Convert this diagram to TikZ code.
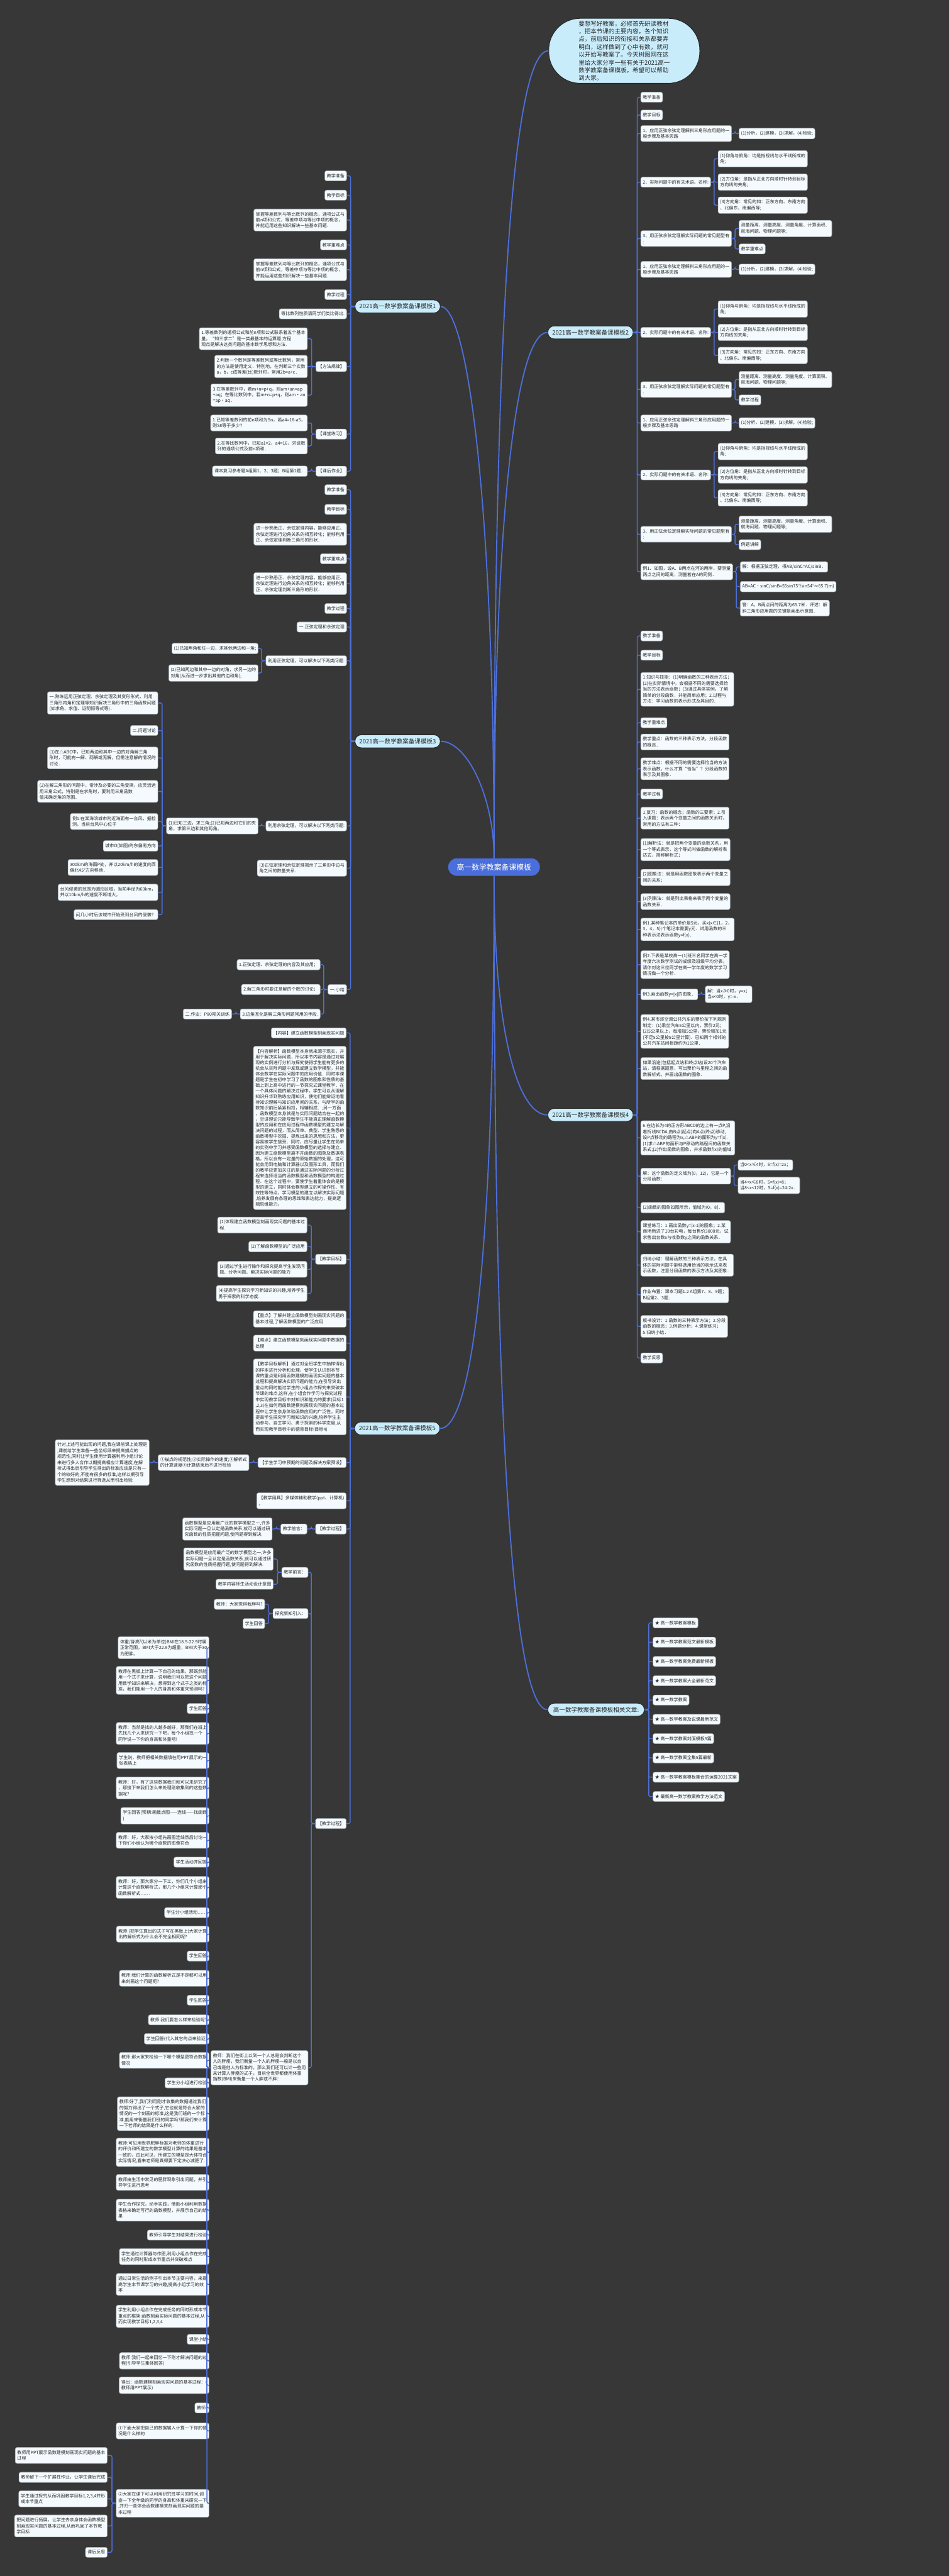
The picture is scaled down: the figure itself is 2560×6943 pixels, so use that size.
\documentclass[tikz,border=0pt]{standalone}
\usepackage{fontspec}
\setmainfont{Noto Sans CJK SC}
\usetikzlibrary{positioning}
\definecolor{bgcol}{HTML}{373737}
\definecolor{linkblue}{HTML}{4E6FD8}
\definecolor{leaffill}{HTML}{F4FAFD}
\definecolor{leafline}{HTML}{9AA3A8}
\definecolor{brfill}{HTML}{C9ECFB}
\definecolor{rootfill}{HTML}{4A6EDB}
\definecolor{inkcol}{HTML}{2A2A2A}

\begin{document}
\begin{tikzpicture}[x=0.01cm, y=-0.01cm,
every node/.style={font=\fontsize{3.4}{4.55}\selectfont, text=inkcol, align=left},
leaf/.style={rectangle, rounded corners=0.05cm, draw=leafline, line width=0.3pt, fill=leaffill, inner xsep=0.055cm, inner ysep=2.3pt},
branch/.style={rectangle, rounded corners=0.17cm, draw=black!85, line width=0.5pt, fill=brfill, minimum width=2.3cm, minimum height=0.35cm, inner sep=0pt, font=\fontsize{4.6}{5.5}\selectfont, align=center},
root/.style={rectangle, rounded corners=0.23cm, fill=rootfill, minimum width=2.47cm, minimum height=0.47cm, inner sep=0pt, text=white, font=\fontsize{5.7}{6.5}\selectfont, align=center},
bubble/.style={rectangle, rounded corners=0.85cm, draw=black!85, line width=0.5pt, fill=brfill, minimum width=4.07cm, minimum height=1.75cm, inner sep=0pt, font=\fontsize{4.6}{5.97}\selectfont},
link/.style={draw=linkblue, line width=0.7pt, rounded corners=0.045cm},
trunk/.style={draw=linkblue, line width=0.9pt}
]
\fill[bgcol] (0,0) rectangle (2560,6943);
\useasboundingbox (0,0) rectangle (2560,6943);

% Centre, intro and main branches
\node[root] (root) at (1332,2337) {高一数学教案备课模板};
\node[bubble] (intro) at (1683,137) {要想写好教案，必修首先研读教材\\，把本节课的主要内容，各个知识\\点，前后知识的衔接和关系都要弄\\明白，这样做到了心中有数，就可\\以开始写教案了。今天树图网在这\\里给大家分享一些有关于2021高一\\数学教案备课模板，希望可以帮助\\到大家。};
\node[branch] (b1) at (1072,826) {2021高一数学教案备课模板1};
\node[branch] (b2) at (1592,896) {2021高一数学教案备课模板2};
\node[branch] (b3) at (1072,1998) {2021高一数学教案备课模板3};
\node[branch] (b4) at (1592,3005) {2021高一数学教案备课模板4};
\node[branch] (b5) at (1071,3850) {2021高一数学教案备课模板5};
\node[branch, minimum width=2.6cm] (b6) at (1607,4608) {高一数学教案备课模板相关文章:};

\draw[trunk] (root.north) .. controls (1332,900) and (1380,137) .. (intro.west);
\draw[trunk] (root.north) .. controls (1332,1400) and (1390,896) .. (b2.west);
\draw[trunk] (root.north) .. controls (1332,1350) and (1260,826) .. (b1.east);
\draw[trunk] (root.north) .. controls (1332,2150) and (1260,1998) .. (b3.east);
\draw[trunk] (root.south) .. controls (1332,2800) and (1400,3005) .. (b4.west);
\draw[trunk] (root.south) .. controls (1332,3500) and (1260,3850) .. (b5.east);
\draw[trunk] (root.south) .. controls (1332,4100) and (1400,4608) .. (b6.west);

% Branch 2
\node[leaf, anchor=west] (r01) at (1727,262) {教学准备};
\node[leaf, anchor=west] (r02) at (1727,310) {教学目标};
\node[leaf, anchor=west] (r03) at (1727,360) {1、应用正弦余弦定理解斜三角形应用题的一\\般步骤及基本思路};
\node[leaf, right=0.19cm of r03] (r03a) {(1)分析，(2)建模，(3)求解，(4)检验;};
\node[leaf, anchor=west] (r04) at (1727,491) {2、实际问题中的有关术语、名称:};
\node[leaf, right=0.19cm of r04, yshift=0.63cm] (r04a) {(1)仰角与俯角：均是指视线与水平线所成的\\角;};
\node[leaf, right=0.19cm of r04] (r04b) {(2)方位角：是指从正北方向顺时针转到目标\\方向线的夹角;};
\node[leaf, right=0.19cm of r04, yshift=-0.62cm] (r04c) {(3)方向角：常见的如：正东方向、东南方向\\、北偏东、南偏西等;};
\node[leaf, anchor=west] (r05) at (1727,643) {3、用正弦余弦定理解实际问题的常见题型有\\:};
\node[leaf, right=0.19cm of r05, yshift=0.27cm] (r05a) {测量距离、测量高度、测量角度、计算面积、\\航海问题、物理问题等;};
\node[leaf, right=0.19cm of r05, yshift=-0.28cm] (r05b) {教学重难点};
\node[leaf, anchor=west] (r06) at (1727,726) {1、应用正弦余弦定理解斜三角形应用题的一\\般步骤及基本思路};
\node[leaf, right=0.19cm of r06] (r06a) {(1)分析，(2)建模，(3)求解，(4)检验;};
\node[leaf, anchor=west] (r07) at (1727,896) {2、实际问题中的有关术语、名称:};
\node[leaf, right=0.19cm of r07, yshift=0.63cm] (r07a) {(1)仰角与俯角：均是指视线与水平线所成的\\角;};
\node[leaf, right=0.19cm of r07] (r07b) {(2)方位角：是指从正北方向顺时针转到目标\\方向线的夹角;};
\node[leaf, right=0.19cm of r07, yshift=-0.62cm] (r07c) {(3)方向角：常见的如：正东方向、东南方向\\、北偏东、南偏西等;};
\node[leaf, anchor=west] (r08) at (1727,1050) {3、用正弦余弦定理解实际问题的常见题型有\\:};
\node[leaf, right=0.19cm of r08, yshift=0.27cm] (r08a) {测量距离、测量高度、测量角度、计算面积、\\航海问题、物理问题等;};
\node[leaf, right=0.19cm of r08, yshift=-0.28cm] (r08b) {教学过程};
\node[leaf, anchor=west] (r09) at (1727,1140) {1、应用正弦余弦定理解斜三角形应用题的一\\般步骤及基本思路};
\node[leaf, right=0.19cm of r09] (r09a) {(1)分析，(2)建模，(3)求解，(4)检验;};
\node[leaf, anchor=west] (r10) at (1727,1280) {2、实际问题中的有关术语、名称:};
\node[leaf, right=0.19cm of r10, yshift=0.63cm] (r10a) {(1)仰角与俯角：均是指视线与水平线所成的\\角;};
\node[leaf, right=0.19cm of r10] (r10b) {(2)方位角：是指从正北方向顺时针转到目标\\方向线的夹角;};
\node[leaf, right=0.19cm of r10, yshift=-0.62cm] (r10c) {(3)方向角：常见的如：正东方向、东南方向\\、北偏东、南偏西等;};
\node[leaf, anchor=west] (r11) at (1727,1440) {3、用正弦余弦定理解实际问题的常见题型有\\:};
\node[leaf, right=0.19cm of r11, yshift=0.27cm] (r11a) {测量距离、测量高度、测量角度、计算面积、\\航海问题、物理问题等;};
\node[leaf, right=0.19cm of r11, yshift=-0.28cm] (r11b) {例题讲解};
\node[leaf, anchor=west] (r12) at (1727,1541) {例1、如图，设A、B两点在河的两岸，要测量\\两点之间的距离，测量者在A的同侧．};
\node[leaf, right=0.19cm of r12, yshift=0.13cm] (r12a) {解：根据正弦定理，得AB/sinC=AC/sinB，};
\node[leaf, right=0.19cm of r12, yshift=-0.40cm] (r12b) {AB=AC·sinC/sinB=55sin75°/sin54°≈65.7(m)};
\node[leaf, right=0.19cm of r12, yshift=-0.98cm] (r12c) {答：A，B两点间的距离为65.7米．评述：解\\斜三角形应用题的关键是画出示意图．};

\foreach \kid in {r01,r02,r03,r04,r05,r06,r07,r08,r09,r10,r11,r12}
  \draw[link] (b2.east) -- ++(10,0) |- (\kid.west);
\foreach \up/\kid in {r03/r03a,r04/r04a,r04/r04b,r04/r04c,r05/r05a,r05/r05b,r06/r06a,r07/r07a,r07/r07b,r07/r07c,r08/r08a,r08/r08b,r09/r09a,r10/r10a,r10/r10b,r10/r10c,r11/r11a,r11/r11b,r12/r12a,r12/r12b,r12/r12c}
  \draw[link] (\up.east) -- ++(9,0) |- (\kid.west);

% Branch 1
\node[leaf, anchor=east] (p01) at (935,474) {教学准备};
\node[leaf, anchor=east] (p02) at (935,526) {教学目标};
\node[leaf, anchor=east] (p03) at (935,593) {掌握等差数列与等比数列的概念，通项公式与\\前n项和公式，等差中项与等比中项的概念，\\并能运用这些知识解决一些基本问题.};
\node[leaf, anchor=east] (p04) at (935,660) {教学重难点};
\node[leaf, anchor=east] (p05) at (935,727) {掌握等差数列与等比数列的概念，通项公式与\\前n项和公式，等差中项与等比中项的概念，\\并能运用这些知识解决一些基本问题.};
\node[leaf, anchor=east] (p06) at (935,794) {教学过程};
\node[leaf, anchor=east] (p07) at (935,846) {等比数列性质请同学们类比得出.};
\node[leaf, anchor=east] (p08) at (935,988) {【方法规律】};
\node[leaf, left=0.22cm of p08, yshift=0.75cm] (p08a) {1.等差数列的通项公式和前n项和公式联系着五个基本\\量，“知三求二”是一类最基本的运算题.方程\\观点是解决这类问题的基本数学思想和方法.};
\node[leaf, left=0.22cm of p08] (p08b) {2.判断一个数列是等差数列或等比数列，常用\\的方法是使用定义．特别地，在判断三个实数\\a，b，c成等差(比)数列时，常用2b=a+c．};
\node[leaf, left=0.22cm of p08, yshift=-0.77cm] (p08c) {3.在等差数列中，若m+n=p+q，则am+an=ap\\+aq；在等比数列中，若m+n=p+q，则am·an\\=ap·aq．};
\node[leaf, anchor=east] (p09) at (935,1170) {【课堂练习】};
\node[leaf, left=0.22cm of p09, yshift=0.30cm] (p09a) {1.已知等差数列的前n项和为Sn，若a4=18-a5，\\则S8等于多少？};
\node[leaf, left=0.22cm of p09, yshift=-0.32cm] (p09b) {2.在等比数列中，已知a1=2，a4=16，求该数\\列的通项公式及前n项和．};
\node[leaf, anchor=east] (p10) at (935,1270) {【课后作业】};
\node[leaf, left=0.22cm of p10] (p10a) {课本复习参考题A组第1、2、3题；B组第1题．};

\foreach \kid in {p01,p02,p03,p04,p05,p06,p07,p08,p09,p10}
  \draw[link] (b1.west) -- ++(-11,0) |- (\kid.east);
\foreach \up/\kid in {p08/p08a,p08/p08b,p08/p08c,p09/p09a,p09/p09b,p10/p10a}
  \draw[link] (\up.west) -- ++(-11,0) |- (\kid.east);

% Branch 3
\node[leaf, anchor=east] (s01) at (935,1320) {教学准备};
\node[leaf, anchor=east] (s02) at (935,1373) {教学目标};
\node[leaf, anchor=east] (s03) at (935,1440) {进一步熟悉正、余弦定理内容，能够应用正、\\余弦定理进行边角关系的相互转化；能够利用\\正、余弦定理判断三角形的形状．};
\node[leaf, anchor=east] (s04) at (935,1506) {教学重难点};
\node[leaf, anchor=east] (s05) at (935,1573) {进一步熟悉正、余弦定理内容，能够应用正、\\余弦定理进行边角关系的相互转化；能够利用\\正、余弦定理判断三角形的形状．};
\node[leaf, anchor=east] (s06) at (935,1640) {教学过程};
\node[leaf, anchor=east] (s07) at (935,1690) {一.正弦定理和余弦定理};
\node[leaf, anchor=east] (s08) at (935,1781) {利用正弦定理，可以解决以下两类问题:};
\node[leaf, left=0.2cm of s08, yshift=0.33cm] (s08a) {(1)已知两角和任一边，求其他两边和一角;};
\node[leaf, left=0.2cm of s08, yshift=-0.33cm] (s08b) {(2)已知两边和其中一边的对角，求另一边的\\对角(从而进一步求出其他的边和角);};
\node[leaf, anchor=east] (s09) at (935,2226) {利用余弦定理，可以解决以下两类问题:};
\node[leaf, left=0.2cm of s09] (s09a) {(1)已知三边，求三角;(2)已知两边和它们的夹\\角，求第三边和其他两角。};
\node[leaf, left=0.22cm of s09a, yshift=3.31cm] (g1) {一.熟练运用正弦定理、余弦定理及其变形形式，利用\\三角形内角和定理等知识解决三角形中的三角函数问题\\(如求角、求值、证明恒等式等)．};
\node[leaf, left=0.22cm of s09a, yshift=2.57cm] (g2) {二.问题讨论};
\node[leaf, left=0.22cm of s09a, yshift=1.83cm] (g3) {(1)在△ABC中，已知两边和其中一边的对角解三角\\形时，可能有一解、两解或无解，但需注意解的情况的\\讨论．};
\node[leaf, left=0.22cm of s09a, yshift=0.93cm] (g4) {(2)在解三角形的问题中，常涉及必要的三角变换，应灵活运\\用三角公式，特别是在求角时，要利用三角函数\\值来确定角的范围．};
\node[leaf, left=0.22cm of s09a, yshift=0.12cm] (g5) {例1.在某海滨城市附近海面有一台风，据检\\测，当前台风中心位于};
\node[leaf, left=0.22cm of s09a, yshift=-0.54cm] (g6) {城市O(如图)的东偏南方向};
\node[leaf, left=0.22cm of s09a, yshift=-1.12cm] (g7) {300km的海面P处，并以20km/h的速度向西\\偏北45°方向移动．};
\node[leaf, left=0.22cm of s09a, yshift=-1.79cm] (g8) {台风侵袭的范围为圆形区域，当前半径为60km，\\并以10km/h的速度不断增大，};
\node[leaf, left=0.22cm of s09a, yshift=-2.39cm] (g9) {问几小时后该城市开始受到台风的侵袭？};
\node[leaf, anchor=east] (s10) at (935,2340) {(3)正弦定理和余弦定理揭示了三角形中边与\\角之间的数量关系．};
\node[leaf, anchor=east] (s11) at (935,2667) {一.小结};
\node[leaf, left=0.2cm of s11, yshift=0.67cm] (s11a) {1.正弦定理、余弦定理的内容及其应用；};
\node[leaf, left=0.2cm of s11] (s11b) {2.解三角形时要注意解的个数的讨论；};
\node[leaf, left=0.2cm of s11, yshift=-0.66cm] (s11c) {3.边角互化是解三角形问题常用的手段.};
\node[leaf, left=0.22cm of s11c] (s11d) {二.作业：P80闯关训练};

\foreach \kid in {s01,s02,s03,s04,s05,s06,s07,s08,s09,s10,s11}
  \draw[link] (b3.west) -- ++(-11,0) |- (\kid.east);
\foreach \up/\kid in {s08/s08a,s08/s08b,s09/s09a,s11/s11a,s11/s11b,s11/s11c,s11c/s11d,s09a/g1,s09a/g2,s09a/g3,s09a/g4,s09a/g5,s09a/g6,s09a/g7,s09a/g8,s09a/g9}
  \draw[link] (\up.west) -- ++(-11,0) |- (\kid.east);

% Branch 4
\node[leaf, anchor=west] (q01) at (1727,1714) {教学准备};
\node[leaf, anchor=west] (q02) at (1727,1766) {教学目标};
\node[leaf, anchor=west] (q03) at (1727,1858) {1.知识与技能：(1)明确函数的三种表示方法；\\(2)在实际情境中，会根据不同的需要选择恰\\当的方法表示函数；(3)通过具体实例，了解\\简单的分段函数，并能简单应用；2.过程与\\方法：学习函数的表示形式及其目的．};
\node[leaf, anchor=west] (q04) at (1727,1948) {教学重难点};
\node[leaf, anchor=west] (q05) at (1727,2000) {教学重点：函数的三种表示方法，分段函数\\的概念．};
\node[leaf, anchor=west] (q06) at (1727,2072) {教学难点：根据不同的需要选择恰当的方法\\表示函数，什么才算“恰当”？分段函数的\\表示及其图象．};
\node[leaf, anchor=west] (q07) at (1727,2140) {教学过程};
\node[leaf, anchor=west] (q08) at (1727,2205) {1.复习：函数的概念；函数的三要素；2.引\\入课题：表示两个变量之间的函数关系时，\\常用的方法有三种：};
\node[leaf, anchor=west] (q09) at (1727,2290) {(1)解析法：就是把两个变量的函数关系，用\\一个等式表示，这个等式叫做函数的解析表\\达式，简称解析式；};
\node[leaf, anchor=west] (q10) at (1727,2365) {(2)图象法：就是用函数图象表示两个变量之\\间的关系；};
\node[leaf, anchor=west] (q11) at (1727,2430) {(3)列表法：就是列出表格来表示两个变量的\\函数关系．};
\node[leaf, anchor=west] (q12) at (1727,2505) {例1.某种笔记本的单价是5元，买x(x∈\{1，2，\\3，4，5\})个笔记本需要y元．试用函数的三\\种表示法表示函数y=f(x)．};
\node[leaf, anchor=west] (q13) at (1727,2600) {例2.下表是某校高一(1)班三名同学在高一学\\年度六次数学测试的成绩及班级平均分表，\\请你对这三位同学在高一学年度的数学学习\\情况做一个分析．};
\node[leaf, anchor=west] (q14) at (1727,2680) {例3.画出函数y=|x|的图象．};
\node[leaf, right=0.19cm of q14] (q14a) {解：当x≥0时，y=x；\\当x<0时，y=-x．};
\node[leaf, anchor=west] (q15) at (1727,2780) {例4.某市郊空调公共汽车的票价按下列规则\\制定：(1)乘坐汽车5公里以内，票价2元；\\(2)5公里以上，每增加5公里，票价增加1元\\(不足5公里按5公里计算)．已知两个相邻的\\公共汽车站间相距约为1公里．};
\node[leaf, anchor=west] (q15b) at (1727,2880) {如果沿途(包括起点站和终点站)设20个汽车\\站，请根据题意，写出票价与里程之间的函\\数解析式，并画出函数的图象．};
\node[leaf, anchor=west] (q16) at (1727,3067) {6.在边长为4的正方形ABCD的边上有一点P,沿\\着折线BCDA,由B点(起点)向A点(终点)移动,\\设P点移动的路程为x,△ABP的面积为y=f(x).\\(1)求△ABP的面积与P移动的路程间的函数关\\系式;(2)作出函数的图象，并求函数f(x)的值域.};
\node[leaf, anchor=west] (q17) at (1727,3170) {解：这个函数的定义域为(0，12)，它是一个\\分段函数：};
\node[leaf, right=0.19cm of q17, yshift=0.30cm] (q17a) {当0<x≤4时，S=f(x)=2x；};
\node[leaf, right=0.19cm of q17, yshift=-0.25cm] (q17b) {当4<x≤8时，S=f(x)=8；\\当8<x<12时，S=f(x)=24-2x．};
\node[leaf, anchor=west] (q18) at (1727,3255) {(2)函数的图象如图所示，值域为(0，8]．};
\node[leaf, anchor=west] (q19) at (1727,3320) {课堂练习：1.画出函数y=|x-1|的图象；2.某\\商场新进了10台彩电，每台售价3000元，试\\求售出台数x与收款数y之间的函数关系．};
\node[leaf, anchor=west] (q20) at (1727,3410) {归纳小结：理解函数的三种表示方法，在具\\体的实际问题中能够选用恰当的表示法来表\\示函数，注意分段函数的表示方法及其图象．};
\node[leaf, anchor=west] (q21) at (1727,3490) {作业布置：课本习题1.2 A组第7、8、9题；\\B组第2、3题．};
\node[leaf, anchor=west] (q22) at (1727,3575) {板书设计：1.函数的三种表示方法；2.分段\\函数的概念；3.例题分析；4.课堂练习；\\5.归纳小结．};
\node[leaf, anchor=west] (q23) at (1727,3660) {教学反思};

\foreach \kid in {q01,q02,q03,q04,q05,q06,q07,q08,q09,q10,q11,q12,q13,q14,q15,q15b,q16,q17,q18,q19,q20,q21,q22,q23}
  \draw[link] (b4.east) -- ++(10,0) |- (\kid.west);
\foreach \up/\kid in {q14/q14a,q17/q17a,q17/q17b}
  \draw[link] (\up.east) -- ++(9,0) |- (\kid.west);

% Branch 6, related articles
\node[leaf, anchor=west] (a01) at (1760,4374) {★ 高一数学教案模板};
\node[leaf, anchor=west] (a02) at (1760,4426) {★ 高一数学教案范文最新模板};
\node[leaf, anchor=west] (a03) at (1760,4478) {★ 高一数学教案免费最新模板};
\node[leaf, anchor=west] (a04) at (1760,4530) {★ 高一数学教案大全最新范文};
\node[leaf, anchor=west] (a05) at (1760,4582) {★ 高一数学教案};
\node[leaf, anchor=west] (a06) at (1760,4634) {★ 高一数学教案及说课最新范文};
\node[leaf, anchor=west] (a07) at (1760,4686) {★ 高一数学教案封面模板5篇};
\node[leaf, anchor=west] (a08) at (1760,4738) {★ 高一数学教案全集5篇最新};
\node[leaf, anchor=west] (a09) at (1760,4790) {★ 高一数学教案模板集合的运算2021文案};
\node[leaf, anchor=west] (a10) at (1760,4842) {★ 最新高一数学教案教学方法范文};
\foreach \kid in {a01,a02,a03,a04,a05,a06,a07,a08,a09,a10}
  \draw[link] (b6.east) -- ++(11,0) |- (\kid.west);

% Branch 5
\node[leaf, anchor=east] (c01) at (934,2784) {【内容】建立函数模型刻画现实问题};
\node[leaf, anchor=east, font=\fontsize{3.4}{4.35}\selectfont] (c02) at (934,3040) {【内容解析】函数模型本身就来源于现实，并\\用于解决实际问题，所以本节内容是通过对展\\现的实例进行分析与探究使得学生能有更多的\\机会从实际问题中发现或建立数学模型，并能\\体会数学在实际问题中的应用价值．同时本课\\题是学生在初中学习了函数的图象和性质的基\\础上到上高中进行的一节探究式课堂教学．在\\一个具体问题的解决过程中，学生可以从理解\\知识升华到熟练应用知识，使他们能辩证地看\\待知识理解与知识应用间的关系，与所学的函\\数知识前后紧紧相扣，相辅相成．;另一方面\\，函数模型本身就是与实际问题结合在一起的\\，空讲理论只能导致学生不能真正理解函数模\\型的应用和在应用过程中函数模型的建立与解\\决问题的过程，而从简单、典型、学生熟悉的\\函数模型中挖掘、提炼出来的思想和方法，更\\容易被学生接受．同时，应尽量让学生在简单\\的实例中学习并感受函数模型的选择与建立．\\因为建立函数模型离不开函数的图象及数据表\\格，所以会有一定量的原始数据的处理，这可\\能会用到电脑和计算器以及图形工具，而我们\\的教学应更加关注的是通过实际问题的分析过\\程来选择适当的函数模型和函数模型的构建过\\程．在这个过程中，要使学生着重体会的是模\\型的建立，同时体会模型建立的可操作性、有\\效性等特点，学习模型的建立以解决实际问题\\,培养发展有条理的思维和表达能力，提高逻\\辑思维能力。};
\node[leaf, anchor=east] (c03) at (934,3394) {【教学目标】};
\node[leaf, left=0.22cm of c03, yshift=0.92cm] (c03a) {(1)体现建立函数模型刻画现实问题的基本过\\程.};
\node[leaf, left=0.22cm of c03, yshift=0.34cm] (c03b) {(2)了解函数模型的广泛应用};
\node[leaf, left=0.22cm of c03, yshift=-0.27cm] (c03c) {(3)通过学生进行操作和探究提高学生发现问\\题、分析问题、解决实际问题的能力};
\node[leaf, left=0.22cm of c03, yshift=-0.92cm] (c03d) {(4)提高学生探究学习新知识的兴趣,培养学生\\勇于探索的科学态度.};
\node[leaf, anchor=east] (c04) at (934,3555) {【重点】了解并建立函数模型刻画现实问题的\\基本过程,了解函数模型的广泛应用};
\node[leaf, anchor=east] (c05) at (934,3620) {【难点】建立函数模型刻画现实问题中数据的\\处理};
\node[leaf, anchor=east] (c06) at (934,3765) {【教学目标解析】通过对全班学生中抽样得出\\的样本进行分析和处理，使学生认识到本节\\课的重点是利用函数建模刻画现实问题的基本\\过程和提高解决实际问题的能力,在引导突出\\重点的同时能过学生的小组合作探究来突破本\\节课的难点,这样,在小组合作学习与探究过程\\中实现教学目标中对知识和能力的要求(目标1\\,2,3)在如何用函数建模刻画现实问题的基本过\\程中让学生亲身体验函数应用的广泛性，同时\\提高学生探究学习新知识的兴趣,培养学生主\\动参与、自主学习、勇于探索的科学态度,从\\而实现教学目标中的德育目标(目标4)};
\node[leaf, anchor=east] (c07) at (934,3942) {【学生学习中预期的问题及解决方案预设】};
\node[leaf, left=0.23cm of c07] (c07a) {①描点的规范性;②实际操作的速度;③解析式\\的计算速度④计算结束后不进行检验};
\node[leaf, left=0.23cm of c07a] (c07b) {针对上述可能出现的问题,我在课前课上处理是\\,课前给学生准备一些坐标纸来提高描点的\\规范性,同时让学生使用计算器利用小组讨论\\来进行多人合作以期提高相应计算速度,在解\\析式得出后引导学生得出的标准应该是只有一\\个的较好的,不能有很多的标准,这样以期引导\\学生想到对结果进行筛选从而引出检验.};
\node[leaf, anchor=east] (c08) at (934,4045) {【教学用具】多媒体辅助教学(ppt、计算机)\\。};
\node[leaf, anchor=east] (c09) at (934,4121) {【教学过程】};
\node[leaf, left=0.22cm of c09] (c09a) {教学前言：};
\node[leaf, left=0.22cm of c09a] (c09b) {函数模型是应用最广泛的数学模型之一,许多\\实际问题一旦认定是函数关系,就可以通过研\\究函数的性质把握问题,使问题得到解决.};
\node[leaf, anchor=east] (c10) at (934,4915) {【教学过程】};

\node[leaf, anchor=east] (d01) at (831,4238) {教学前言：};
\node[leaf, left=0.22cm of d01, yshift=0.36cm] (d01a) {函数模型是应用最广泛的数学模型之一,许多\\实际问题一旦认定是函数关系,就可以通过研\\究函数的性质把握问题,使问题得到解决.};
\node[leaf, left=0.22cm of d01, yshift=-0.32cm] (d01b) {教学内容师生活动设计意图};
\node[leaf, anchor=east] (d02) at (831,4349) {探究新知引入：};
\node[leaf, left=0.21cm of d02, yshift=0.25cm] (d02a) {教师：大家觉得我胖吗?};
\node[leaf, left=0.21cm of d02, yshift=-0.27cm] (d02b) {学生回答};
\node[leaf, anchor=east] (d03) at (831,5573) {教师：我们在街上以到一个人总是会判断这个\\人的胖瘦，我们衡量一个人的胖瘦一般是以自\\己或是他人为标准的，那么我们还可以计一些用\\来计算人胖瘦的式子，目前全世界都使用体重\\指数(BMI)来衡量一个人胖或不胖：};

\node[leaf, anchor=east] (e01) at (564,4441) {体重/身高²(以米为单位)BMI在18.5-22.9时属\\正常范围，BMI大于22.9为超重，BMI大于30\\为肥胖。};
\node[leaf, anchor=east] (e02) at (564,4529) {教师在黑板上计算一下自己的结果，那既然能\\用一个式子来计算，说明我们可以把这个问题\\用数学知识来解决，想得到这个式子之类的标\\准，我们能用一个人的身高和体重来预测吗?};
\node[leaf, anchor=east] (e03) at (564,4605) {学生回答};
\node[leaf, anchor=east] (e04) at (564,4672) {教师：当然是找的人越多越好，那我们在班上\\先找几个人来研究一下吧，每个小组找一个\\同学说一下你的身高和体重吧!};
\node[leaf, anchor=east] (e05) at (564,4745) {学生说，教师把相关数据填在用PPT展示的一\\张表格上};
\node[leaf, anchor=east] (e06) at (564,4819) {教师：好，有了这些数据我们就可以来研究了\\，那接下来我们怎么来处理刚收集到的这些数\\据呢?};
\node[leaf, anchor=east] (e07) at (564,4894) {学生回答(预期:画散点图——连线——找函数\\)};
\node[leaf, anchor=east] (e08) at (564,4960) {教师：好，大家按小组先画图连线然后讨论一\\下你们小组认为哪个函数的图像符合};
\node[leaf, anchor=east] (e09) at (564,5019) {学生活动并回答};
\node[leaf, anchor=east] (e10) at (564,5087) {教师：好，那大家分一下工，你们几个小组来\\计算这个函数解析式，那几个小组来计算那个\\函数解析式……};
\node[leaf, anchor=east] (e11) at (564,5155) {学生分小组活动……};
\node[leaf, anchor=east] (e12) at (564,5213) {教师:(把学生算出的式子写在黑板上)大家计算\\出的解析式为什么会不完全相同呢?};
\node[leaf, anchor=east] (e13) at (564,5272) {学生回答};
\node[leaf, anchor=east] (e14) at (564,5332) {教师:我们计算的函数解析式是不是都可以用\\来刻画这个问题呢?};
\node[leaf, anchor=east] (e15) at (564,5391) {学生回答};
\node[leaf, anchor=east] (e16) at (564,5444) {教师:我们要怎么样来检验呢?};
\node[leaf, anchor=east] (e17) at (564,5495) {学生回答(代入其它的点来验证)};
\node[leaf, anchor=east] (e18) at (564,5553) {教师:那大家来检验一下哪个模型更符合数据\\情况};
\node[leaf, anchor=east] (e19) at (564,5614) {学生分小组进行检验};
\node[leaf, anchor=east] (e20) at (564,5697) {教师:好了,我们利用刚才收集的数据通过我们\\的努力得出了一个式子,它也就是符合大家的\\情况的一个刻画的标准,这是我们班的一个标\\准,能用来衡量我们班的同学吗?那我们来计算\\一下老师的结果是什么样的.};
\node[leaf, anchor=east] (e21) at (564,5801) {教师:可见用世界肥胖标准对老师的体重进行\\的评价和所建立的数学模型计算的结果是基本\\一致的，由此可见，所建立的模型是大体符合\\实际情况,看来老师是真得要下定决心减肥了.};
\node[leaf, anchor=east] (e22) at (564,5882) {教师由生活中常见的肥胖现象引出问题，并引\\导学生进行思考};
\node[leaf, anchor=east] (e23) at (564,5957) {学生合作探究，动手实践，借助小组利用数据\\表格来确定可行的函数模型，并展示自己的结\\果};
\node[leaf, anchor=east] (e24) at (564,6024) {教师引导学生对结果进行检验};
\node[leaf, anchor=east] (e25) at (564,6082) {学生通过计算器与作图,利用小组合作在完成\\任务的同时形成本节重点并突破难点};
\node[leaf, anchor=east] (e26) at (564,6157) {通过日常生活的例子引出本节主要内容，来提\\高学生本节课学习的兴趣,提高小组学习的效\\率};
\node[leaf, anchor=east] (e27) at (564,6243) {学生利用小组合作在完成任务的同时形成本节\\重点的框架:函数刻画实际问题的基本过程,从\\而实现教学目标1,2,3,4};
\node[leaf, anchor=east] (e28) at (564,6305) {课堂小结};
\node[leaf, anchor=east] (e29) at (564,6363) {教师:我们一起来回忆一下刚才解决问题的过\\程(引导学生集体回答)};
\node[leaf, anchor=east] (e30) at (564,6429) {得出：函数建模刻画现实问题的基本过程：(\\教师用PPT展示)};
\node[leaf, anchor=east] (e31) at (564,6490) {教师:};
\node[leaf, anchor=east] (e32) at (564,6552) {①下面大家把自己的数据输入计算一下你的情\\况是什么样的};
\node[leaf, anchor=east] (e33) at (564,6747) {②大家在课下可以利用研究性学习的时间,调\\查一下全年级的同学的身高和体重来研究一下\\,并归一些体会函数建模来刻画现实问题的基\\本过程};
\node[leaf, left=0.23cm of e33, yshift=1.29cm] (f1) {教师用PPT展示函数建模刻画现实问题的基本\\过程};
\node[leaf, left=0.23cm of e33, yshift=0.70cm] (f2) {教师留下一个扩展性作业，让学生课后完成};
\node[leaf, left=0.23cm of e33, yshift=0.12cm] (f3) {学生通过探究从而巩固教学目标1,2,3,4并形\\成本节重点};
\node[leaf, left=0.23cm of e33, yshift=-0.61cm] (f4) {把问题进行拓展，让学生去亲身体会函数模型\\刻画现实问题的基本过程,从而巩固了本节教\\学目标};
\node[leaf, left=0.23cm of e33, yshift=-1.32cm] (f5) {课后反思};

\foreach \kid in {c01,c02,c03,c04,c05,c06,c07,c08,c09,c10}
  \draw[link] (b5.west) -- ++(-11,0) |- (\kid.east);
\foreach \kid in {d01,d02,d03}
  \draw[link] (c10.west) -- ++(-11,0) |- (\kid.east);
\foreach \kid in {e01,e02,e03,e04,e05,e06,e07,e08,e09,e10,e11,e12,e13,e14,e15,e16,e17,e18,e19,e20,e21,e22,e23,e24,e25,e26,e27,e28,e29,e30,e31,e32,e33}
  \draw[link] (d03.west) -- ++(-10,0) |- (\kid.east);
\foreach \up/\kid in {c03/c03a,c03/c03b,c03/c03c,c03/c03d,c07/c07a,c07a/c07b,c09/c09a,c09a/c09b,d01/d01a,d01/d01b,d02/d02a,d02/d02b,e33/f1,e33/f2,e33/f3,e33/f4,e33/f5}
  \draw[link] (\up.west) -- ++(-11,0) |- (\kid.east);
\end{tikzpicture}
\end{document}
